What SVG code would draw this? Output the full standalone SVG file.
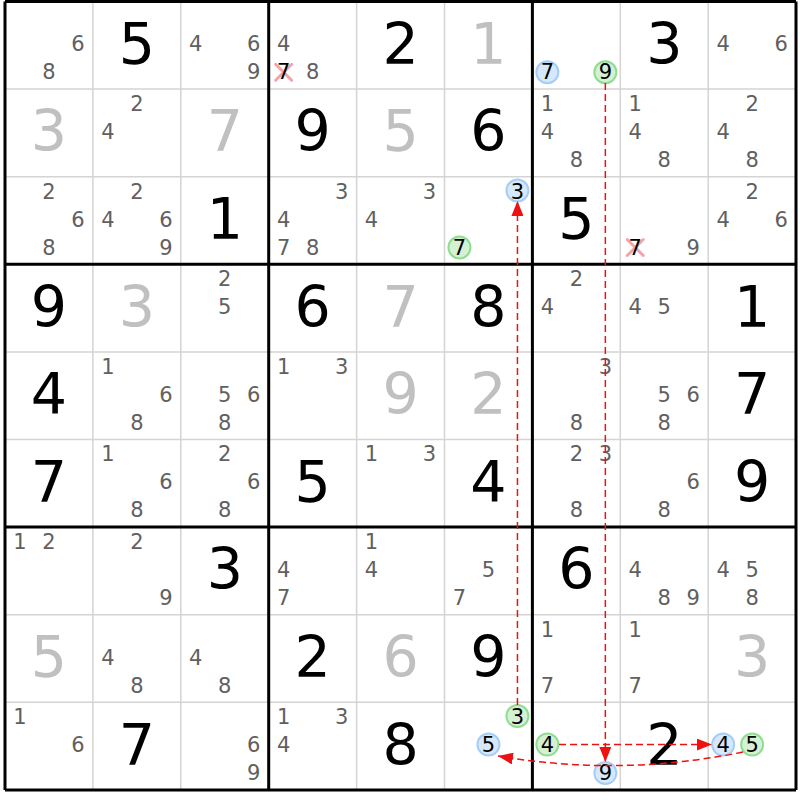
<svg xmlns="http://www.w3.org/2000/svg" width="800" height="800" viewBox="0 0 800 800">
<style>
text{font-family:"DejaVu Sans",Verdana,sans-serif;text-anchor:middle}
.b{font-size:57px;fill:#000}
.l{font-size:57px;fill:#c0c0c0}
.p{font-size:21px;fill:#606060}
.k{font-size:21px;fill:#000}
.thin{stroke:#d4d4d4;stroke-width:1.5}
.thick{stroke:#000;stroke-width:3}
.cb{fill:#d6e8fb;stroke:#a6cdf4;stroke-width:2}
.cg{fill:#d4f1d4;stroke:#90dc90;stroke-width:2}
.x{stroke:#f4a4a8;stroke-width:3;stroke-linecap:round}
.con{fill:none;stroke:#ee1111;stroke-width:1.5;stroke-dasharray:7,4}
</style>
<defs>
<marker id="ah" markerWidth="15" markerHeight="12" refX="15" refY="6" orient="auto" markerUnits="userSpaceOnUse"><path d="M0,0 L15,6 L0,12 z" fill="#ee1111"/></marker>
</defs>
<rect width="800" height="800" fill="#fff"/>
<g id="grid">
<path class="thin" d="M92.9,1.5V789.9M180.8,1.5V789.9M356.6,1.5V789.9M444.5,1.5V789.9M620.3,1.5V789.9M708.2,1.5V789.9M5,89.1H796M5,176.7H796M5,351.9H796M5,439.5H796M5,614.7H796M5,702.3H796"/>
<path class="thick" d="M5,1.5V789.9M268.7,1.5V789.9M532.4,1.5V789.9M796,1.5V789.9M5,1.5H796M5,264.3H796M5,527.1H796M5,789.9H796"/>
</g>
<g id="r0c0" transform="translate(48.95,45.3)"><text class="p" x="29" y="6">6</text><text class="p" x="0" y="34">8</text></g>
<g id="r0c1" transform="translate(136.85,45.3)"><text class="b" y="18.5">5</text></g>
<g id="r0c2" transform="translate(224.75,45.3)"><text class="p" x="-29" y="6">4</text><text class="p" x="29" y="6">6</text><text class="p" x="29" y="34">9</text></g>
<g id="r0c3" transform="translate(312.65,45.3)"><text class="p" x="-29" y="6">4</text><path class="x" d="M-37,19L-21,35M-21,19L-37,35"/><text class="k" x="-29" y="34">7</text><text class="p" x="0" y="34">8</text></g>
<g id="r0c4" transform="translate(400.55,45.3)"><text class="b" y="18.5">2</text></g>
<g id="r0c5" transform="translate(488.45,45.3)"><text class="l" y="18.5">1</text></g>
<g id="r0c6" transform="translate(576.35,45.3)"><circle class="cb" cx="-29" cy="27" r="11"/><text class="k" x="-29" y="34">7</text><circle class="cg" cx="29" cy="27" r="11"/><text class="k" x="29" y="34">9</text></g>
<g id="r0c7" transform="translate(664.25,45.3)"><text class="b" y="18.5">3</text></g>
<g id="r0c8" transform="translate(752.15,45.3)"><text class="p" x="-29" y="6">4</text><text class="p" x="29" y="6">6</text></g>
<g id="r1c0" transform="translate(48.95,132.9)"><text class="l" y="18.5">3</text></g>
<g id="r1c1" transform="translate(136.85,132.9)"><text class="p" x="0" y="-22">2</text><text class="p" x="-29" y="6">4</text></g>
<g id="r1c2" transform="translate(224.75,132.9)"><text class="l" y="18.5">7</text></g>
<g id="r1c3" transform="translate(312.65,132.9)"><text class="b" y="18.5">9</text></g>
<g id="r1c4" transform="translate(400.55,132.9)"><text class="l" y="18.5">5</text></g>
<g id="r1c5" transform="translate(488.45,132.9)"><text class="b" y="18.5">6</text></g>
<g id="r1c6" transform="translate(576.35,132.9)"><text class="p" x="-29" y="-22">1</text><text class="p" x="-29" y="6">4</text><text class="p" x="0" y="34">8</text></g>
<g id="r1c7" transform="translate(664.25,132.9)"><text class="p" x="-29" y="-22">1</text><text class="p" x="-29" y="6">4</text><text class="p" x="0" y="34">8</text></g>
<g id="r1c8" transform="translate(752.15,132.9)"><text class="p" x="0" y="-22">2</text><text class="p" x="-29" y="6">4</text><text class="p" x="0" y="34">8</text></g>
<g id="r2c0" transform="translate(48.95,220.5)"><text class="p" x="0" y="-22">2</text><text class="p" x="29" y="6">6</text><text class="p" x="0" y="34">8</text></g>
<g id="r2c1" transform="translate(136.85,220.5)"><text class="p" x="0" y="-22">2</text><text class="p" x="-29" y="6">4</text><text class="p" x="29" y="6">6</text><text class="p" x="29" y="34">9</text></g>
<g id="r2c2" transform="translate(224.75,220.5)"><text class="b" y="18.5">1</text></g>
<g id="r2c3" transform="translate(312.65,220.5)"><text class="p" x="29" y="-22">3</text><text class="p" x="-29" y="6">4</text><text class="p" x="-29" y="34">7</text><text class="p" x="0" y="34">8</text></g>
<g id="r2c4" transform="translate(400.55,220.5)"><text class="p" x="29" y="-22">3</text><text class="p" x="-29" y="6">4</text></g>
<g id="r2c5" transform="translate(488.45,220.5)"><circle class="cb" cx="29" cy="-30" r="11"/><text class="k" x="29" y="-22">3</text><circle class="cg" cx="-29" cy="27" r="11"/><text class="k" x="-29" y="34">7</text></g>
<g id="r2c6" transform="translate(576.35,220.5)"><text class="b" y="18.5">5</text></g>
<g id="r2c7" transform="translate(664.25,220.5)"><path class="x" d="M-37,19L-21,35M-21,19L-37,35"/><text class="k" x="-29" y="34">7</text><text class="p" x="29" y="34">9</text></g>
<g id="r2c8" transform="translate(752.15,220.5)"><text class="p" x="0" y="-22">2</text><text class="p" x="-29" y="6">4</text><text class="p" x="29" y="6">6</text></g>
<g id="r3c0" transform="translate(48.95,308.1)"><text class="b" y="18.5">9</text></g>
<g id="r3c1" transform="translate(136.85,308.1)"><text class="l" y="18.5">3</text></g>
<g id="r3c2" transform="translate(224.75,308.1)"><text class="p" x="0" y="-22">2</text><text class="p" x="0" y="6">5</text></g>
<g id="r3c3" transform="translate(312.65,308.1)"><text class="b" y="18.5">6</text></g>
<g id="r3c4" transform="translate(400.55,308.1)"><text class="l" y="18.5">7</text></g>
<g id="r3c5" transform="translate(488.45,308.1)"><text class="b" y="18.5">8</text></g>
<g id="r3c6" transform="translate(576.35,308.1)"><text class="p" x="0" y="-22">2</text><text class="p" x="-29" y="6">4</text></g>
<g id="r3c7" transform="translate(664.25,308.1)"><text class="p" x="-29" y="6">4</text><text class="p" x="0" y="6">5</text></g>
<g id="r3c8" transform="translate(752.15,308.1)"><text class="b" y="18.5">1</text></g>
<g id="r4c0" transform="translate(48.95,395.7)"><text class="b" y="18.5">4</text></g>
<g id="r4c1" transform="translate(136.85,395.7)"><text class="p" x="-29" y="-22">1</text><text class="p" x="29" y="6">6</text><text class="p" x="0" y="34">8</text></g>
<g id="r4c2" transform="translate(224.75,395.7)"><text class="p" x="0" y="6">5</text><text class="p" x="29" y="6">6</text><text class="p" x="0" y="34">8</text></g>
<g id="r4c3" transform="translate(312.65,395.7)"><text class="p" x="-29" y="-22">1</text><text class="p" x="29" y="-22">3</text></g>
<g id="r4c4" transform="translate(400.55,395.7)"><text class="l" y="18.5">9</text></g>
<g id="r4c5" transform="translate(488.45,395.7)"><text class="l" y="18.5">2</text></g>
<g id="r4c6" transform="translate(576.35,395.7)"><text class="p" x="29" y="-22">3</text><text class="p" x="0" y="34">8</text></g>
<g id="r4c7" transform="translate(664.25,395.7)"><text class="p" x="0" y="6">5</text><text class="p" x="29" y="6">6</text><text class="p" x="0" y="34">8</text></g>
<g id="r4c8" transform="translate(752.15,395.7)"><text class="b" y="18.5">7</text></g>
<g id="r5c0" transform="translate(48.95,483.3)"><text class="b" y="18.5">7</text></g>
<g id="r5c1" transform="translate(136.85,483.3)"><text class="p" x="-29" y="-22">1</text><text class="p" x="29" y="6">6</text><text class="p" x="0" y="34">8</text></g>
<g id="r5c2" transform="translate(224.75,483.3)"><text class="p" x="0" y="-22">2</text><text class="p" x="29" y="6">6</text><text class="p" x="0" y="34">8</text></g>
<g id="r5c3" transform="translate(312.65,483.3)"><text class="b" y="18.5">5</text></g>
<g id="r5c4" transform="translate(400.55,483.3)"><text class="p" x="-29" y="-22">1</text><text class="p" x="29" y="-22">3</text></g>
<g id="r5c5" transform="translate(488.45,483.3)"><text class="b" y="18.5">4</text></g>
<g id="r5c6" transform="translate(576.35,483.3)"><text class="p" x="0" y="-22">2</text><text class="p" x="29" y="-22">3</text><text class="p" x="0" y="34">8</text></g>
<g id="r5c7" transform="translate(664.25,483.3)"><text class="p" x="29" y="6">6</text><text class="p" x="0" y="34">8</text></g>
<g id="r5c8" transform="translate(752.15,483.3)"><text class="b" y="18.5">9</text></g>
<g id="r6c0" transform="translate(48.95,570.9)"><text class="p" x="-29" y="-22">1</text><text class="p" x="0" y="-22">2</text></g>
<g id="r6c1" transform="translate(136.85,570.9)"><text class="p" x="0" y="-22">2</text><text class="p" x="29" y="34">9</text></g>
<g id="r6c2" transform="translate(224.75,570.9)"><text class="b" y="18.5">3</text></g>
<g id="r6c3" transform="translate(312.65,570.9)"><text class="p" x="-29" y="6">4</text><text class="p" x="-29" y="34">7</text></g>
<g id="r6c4" transform="translate(400.55,570.9)"><text class="p" x="-29" y="-22">1</text><text class="p" x="-29" y="6">4</text></g>
<g id="r6c5" transform="translate(488.45,570.9)"><text class="p" x="0" y="6">5</text><text class="p" x="-29" y="34">7</text></g>
<g id="r6c6" transform="translate(576.35,570.9)"><text class="b" y="18.5">6</text></g>
<g id="r6c7" transform="translate(664.25,570.9)"><text class="p" x="-29" y="6">4</text><text class="p" x="0" y="34">8</text><text class="p" x="29" y="34">9</text></g>
<g id="r6c8" transform="translate(752.15,570.9)"><text class="p" x="-29" y="6">4</text><text class="p" x="0" y="6">5</text><text class="p" x="0" y="34">8</text></g>
<g id="r7c0" transform="translate(48.95,658.5)"><text class="l" y="18.5">5</text></g>
<g id="r7c1" transform="translate(136.85,658.5)"><text class="p" x="-29" y="6">4</text><text class="p" x="0" y="34">8</text></g>
<g id="r7c2" transform="translate(224.75,658.5)"><text class="p" x="-29" y="6">4</text><text class="p" x="0" y="34">8</text></g>
<g id="r7c3" transform="translate(312.65,658.5)"><text class="b" y="18.5">2</text></g>
<g id="r7c4" transform="translate(400.55,658.5)"><text class="l" y="18.5">6</text></g>
<g id="r7c5" transform="translate(488.45,658.5)"><text class="b" y="18.5">9</text></g>
<g id="r7c6" transform="translate(576.35,658.5)"><text class="p" x="-29" y="-22">1</text><text class="p" x="-29" y="34">7</text></g>
<g id="r7c7" transform="translate(664.25,658.5)"><text class="p" x="-29" y="-22">1</text><text class="p" x="-29" y="34">7</text></g>
<g id="r7c8" transform="translate(752.15,658.5)"><text class="l" y="18.5">3</text></g>
<g id="r8c0" transform="translate(48.95,746.1)"><text class="p" x="-29" y="-22">1</text><text class="p" x="29" y="6">6</text></g>
<g id="r8c1" transform="translate(136.85,746.1)"><text class="b" y="18.5">7</text></g>
<g id="r8c2" transform="translate(224.75,746.1)"><text class="p" x="29" y="6">6</text><text class="p" x="29" y="34">9</text></g>
<g id="r8c3" transform="translate(312.65,746.1)"><text class="p" x="-29" y="-22">1</text><text class="p" x="29" y="-22">3</text><text class="p" x="-29" y="6">4</text></g>
<g id="r8c4" transform="translate(400.55,746.1)"><text class="b" y="18.5">8</text></g>
<g id="r8c5" transform="translate(488.45,746.1)"><circle class="cg" cx="29" cy="-30" r="11"/><text class="k" x="29" y="-22">3</text><circle class="cb" cx="0" cy="-1.5" r="11"/><text class="k" x="0" y="6">5</text></g>
<g id="r8c6" transform="translate(576.35,746.1)"><circle class="cg" cx="-29" cy="-1.5" r="11"/><text class="k" x="-29" y="6">4</text><circle class="cb" cx="29" cy="27" r="11"/><text class="k" x="29" y="34">9</text></g>
<g id="r8c7" transform="translate(664.25,746.1)"><text class="b" y="18.5">2</text></g>
<g id="r8c8" transform="translate(752.15,746.1)"><circle class="cb" cx="-29" cy="-1.5" r="11"/><text class="k" x="-29" y="6">4</text><circle class="cg" cx="0" cy="-1.5" r="11"/><text class="k" x="0" y="6">5</text></g>
<g id="connectors">
<path class="con" marker-end="url(#ah)" d="M517.45,705 V201"/>
<path class="con" marker-end="url(#ah)" d="M605.35,83 V762"/>
<path class="con" marker-end="url(#ah)" d="M559,744.6 H712"/>
<path class="con" marker-end="url(#ah)" d="M743,752 Q620,777 498,756"/>
</g>
</svg>
